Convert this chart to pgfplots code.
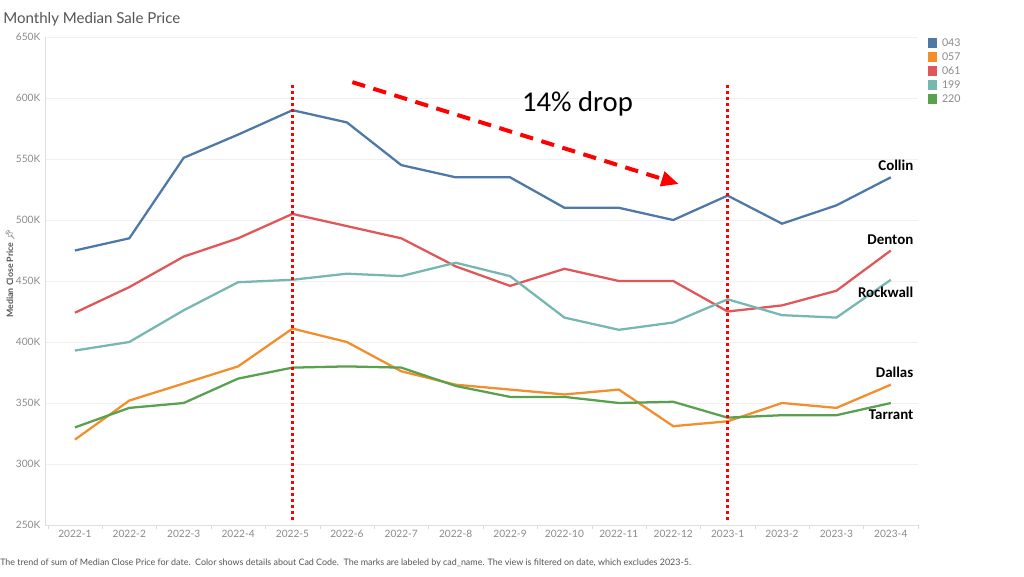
\documentclass[border=0pt]{standalone}
\usepackage{pgfplots}
\pgfplotsset{compat=1.18}
\usepackage{pgfplotstable}
\usepackage{fontspec}
\setmainfont{Lato}
\newfontfamily\calib{Carlito}
\newfontfamily\emoji{Noto Emoji}
\usetikzlibrary{arrows.meta}

\definecolor{c043}{HTML}{4E79A7}
\definecolor{c057}{HTML}{F28E2B}
\definecolor{c061}{HTML}{E15759}
\definecolor{c199}{HTML}{76B7B2}
\definecolor{c220}{HTML}{59A14F}
\definecolor{txtgray}{HTML}{8A8A8A}
\definecolor{darkgray}{HTML}{555555}

% median close price in thousands, month index 0 = 2022-1
\pgfplotstableread{
i  a043 a057 a061 a199 a220
0  475  320  424  393  330
1  485  352  445  400  346
2  551  366  470  426  350
3  570  380  485  449  370
4  590  411  505  451  379
5  580  400  495  456  380
6  545  376  485  454  379
7  535  365  462  465  364
8  535  361  446  454  355
9  510  357  460  420  355
10 510  361  450  410  350
11 500  331  450  416  351
12 520  335  425  435  338
13 497  350  430  422  340
14 512  346  442  420  340
15 535  365  475  451  350
}\prices

\begin{document}
\begin{tikzpicture}
\path[use as bounding box, fill=white] (0,0) rectangle (768pt,432pt);

\begin{axis}[
  at={(33.75pt,38.25pt)}, anchor=south west, scale only axis,
  width=654.75pt, height=366pt,
  xmin=-0.55, xmax=15.5, ymin=250, ymax=650,
  xtick={0,...,15},
  xticklabels={2022-1,2022-2,2022-3,2022-4,2022-5,2022-6,2022-7,2022-8,
    2022-9,2022-10,2022-11,2022-12,2023-1,2023-2,2023-3,2023-4},
  minor xtick={-0.5,0.5,...,15.5},
  ytick={250,300,...,650},
  yticklabels={250K,300K,350K,400K,450K,500K,550K,600K,650K},
  ymajorgrids, major grid style={gray!12, line width=0.6pt},
  axis x line*=bottom, axis y line*=left,
  axis line style={gray!25, line width=0.5pt, -},
  major tick length=0pt, minor tick length=3pt, tick align=outside,
  minor tick style={gray!30},
  tick label style={font=\fontsize{7.6}{9}\selectfont, text=txtgray},
  legend style={at={(1.011,1.0)}, anchor=north west, draw=none, fill=none,
    font=\fontsize{8}{9}\selectfont, text=txtgray, row sep=1.5pt,
    inner sep=0pt, nodes={inner sep=1pt, text height=6pt, text depth=1pt}},
  legend cell align=left,
  legend image code/.code={%
    \fill[draw=none] (0pt,-3.6pt) rectangle (7.2pt,3.6pt);
    \path[draw=none, fill=none] (7.2pt,0pt) -- (9.6pt,0pt);},
]
\addplot[color=c043, line width=1.7pt] table[x=i, y=a043] {\prices};
\addplot[color=c057, line width=1.7pt] table[x=i, y=a057] {\prices};
\addplot[color=c061, line width=1.7pt] table[x=i, y=a061] {\prices};
\addplot[color=c199, line width=1.7pt] table[x=i, y=a199] {\prices};
\addplot[color=c220, line width=1.7pt] table[x=i, y=a220] {\prices};
\legend{043,057,061,199,220}

% annotations
\addplot[forget plot, red, line width=2.4pt, dash pattern=on 2.3pt off 2.2pt]
  coordinates {(4,254) (4,613)};
\addplot[forget plot, red, line width=2.4pt, dash pattern=on 2.3pt off 2.2pt]
  coordinates {(12,254) (12,613)};
\addplot[forget plot, red, line width=3pt, dash pattern=on 10pt off 6.5pt,
  -{Triangle[length=13pt, width=11pt]}]
  coordinates {(5.1,613) (11.1,529.5)};

\node[font=\calib\fontsize{21.5}{24}\selectfont] at (axis cs:9.24,595) {14\% drop};

\begin{scope}[every node/.style={anchor=east, font=\calib\bfseries\fontsize{11.2}{13}\selectfont}]
\node at (axis cs:15.5,545) {Collin};
\node at (axis cs:15.5,484) {Denton};
\node at (axis cs:15.5,441) {Rockwall};
\node at (axis cs:15.5,375) {Dallas};
\node at (axis cs:15.5,340) {Tarrant};
\end{scope}
\end{axis}

\node[anchor=west, text=darkgray, font=\fontsize{11.3}{13}\selectfont, inner sep=0pt]
  at (2.25pt,417.75pt) {Monthly Median Sale Price};
\node[rotate=90, text=darkgray, font=\bfseries\fontsize{6.6}{8}\selectfont]
  at (7.5pt,227pt) {Median Close Price {\emoji 📌}};
\node[anchor=west, text=darkgray, font=\fontsize{6.7}{8}\selectfont, inner sep=0pt]
  at (0pt,9.75pt) {The trend of sum of Median Close Price for date.\ \ Color shows details about Cad Code.\ \ The marks are labeled by cad\_name. The view is filtered on date, which excludes 2023-5.};
\end{tikzpicture}
\end{document}
